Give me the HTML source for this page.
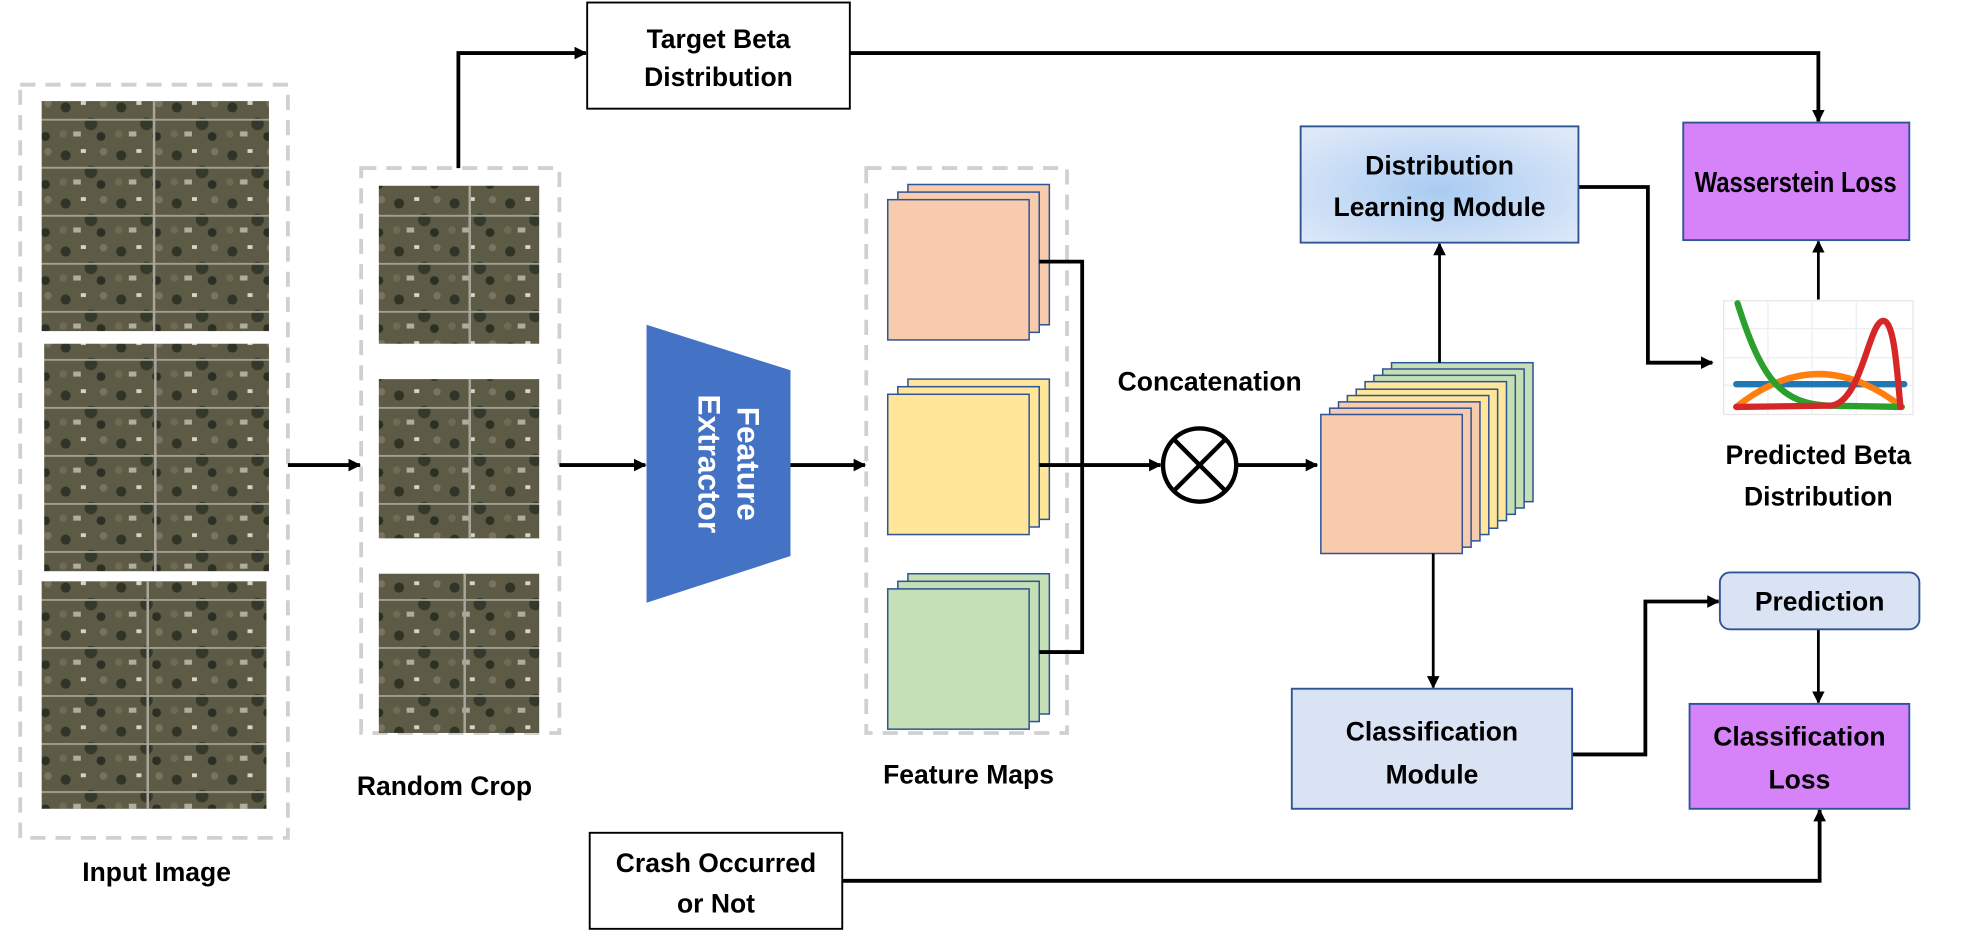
<!DOCTYPE html>
<html><head><meta charset="utf-8"><style>
html,body{margin:0;padding:0;background:#fff;}
svg{display:block;}
text{font-family:"Liberation Sans",sans-serif;font-weight:bold;fill:#000;}
</style></head><body>
<svg width="1980" height="944" viewBox="0 0 1568 747" preserveAspectRatio="none" xmlns="http://www.w3.org/2000/svg">
<defs>
<marker id="ar" markerWidth="10" markerHeight="10" refX="9" refY="5" orient="auto" markerUnits="userSpaceOnUse"><path d="M0,0 L10,5 L0,10 z" fill="#000"/></marker>
<radialGradient id="dlm" cx="50%" cy="55%" r="65%"><stop offset="0" stop-color="#a9cbf2"/><stop offset="1" stop-color="#dde8f8"/></radialGradient>
<pattern id="sat" width="44" height="38" patternUnits="userSpaceOnUse">
<rect width="44" height="38" fill="#5d5a45"/>
<circle cx="8" cy="9" r="4" fill="#2f3427"/><circle cx="28" cy="22" r="5" fill="#343a2b"/><circle cx="38" cy="6" r="3" fill="#7a7360"/>
<rect x="14" y="28" width="6" height="4" fill="#b0aca0"/><circle cx="36" cy="32" r="3.5" fill="#2b3024"/>
<rect x="20" y="4" width="4" height="3" fill="#d8d4cc"/><circle cx="6" cy="30" r="3" fill="#6f6a52"/>
<rect x="0" y="18" width="44" height="1.5" fill="#a19e94"/>
</pattern>
</defs>

<!-- Input image -->
<rect x="16" y="67" width="212" height="596" fill="none" stroke="#d0d0d0" stroke-width="3" stroke-dasharray="12,8"/>
<rect x="33" y="80" width="180" height="182" fill="url(#sat)"/>
<rect x="35" y="272" width="178" height="180" fill="url(#sat)"/>
<rect x="33" y="460" width="178" height="180" fill="url(#sat)"/>
<g stroke="#a8a59a" stroke-width="2"><line x1="122" y1="80" x2="122" y2="262"/><line x1="123" y1="272" x2="123" y2="452"/><line x1="117" y1="460" x2="117" y2="640"/></g>
<text x="124" y="697" font-size="21" text-anchor="middle">Input Image</text>

<!-- Random crop -->
<rect x="286" y="133" width="157" height="447" fill="none" stroke="#d0d0d0" stroke-width="3" stroke-dasharray="12,8"/>
<rect x="300" y="147" width="127" height="125" fill="url(#sat)"/>
<rect x="300" y="300" width="127" height="126" fill="url(#sat)"/>
<rect x="300" y="454" width="127" height="126" fill="url(#sat)"/>
<g stroke="#a8a59a" stroke-width="2"><line x1="372" y1="147" x2="372" y2="272"/><line x1="372" y1="300" x2="372" y2="426"/><line x1="368" y1="454" x2="368" y2="580"/></g>
<text x="352" y="629" font-size="21" text-anchor="middle">Random Crop</text>

<g stroke="#000" stroke-width="3" fill="none">
<line x1="228" y1="368" x2="285" y2="368" marker-end="url(#ar)"/>
<line x1="443" y1="368" x2="511" y2="368" marker-end="url(#ar)"/>
<polyline points="363,133 363,42 464,42" marker-end="url(#ar)"/>
<polyline points="673,42 1440,42 1440,96" marker-end="url(#ar)"/>
<line x1="626" y1="368" x2="685" y2="368" marker-end="url(#ar)"/>
</g>

<!-- Target beta -->
<rect x="465" y="2" width="208" height="84" fill="#fff" stroke="#000" stroke-width="1.5"/>
<text x="569" y="38" font-size="21" text-anchor="middle">Target Beta</text>
<text x="569" y="68" font-size="21" text-anchor="middle">Distribution</text>

<!-- Feature extractor -->
<polygon points="512,257 626,293 626,440 512,477" fill="#4472c4"/>
<text transform="translate(584,367) rotate(90)" font-size="25" text-anchor="middle" style="fill:#fff">Feature</text>
<text transform="translate(553,367) rotate(90)" font-size="25" text-anchor="middle" style="fill:#fff">Extractor</text>

<!-- Feature maps -->
<rect x="686" y="133" width="159" height="447" fill="none" stroke="#d0d0d0" stroke-width="3" stroke-dasharray="12,8"/>
<g stroke="#2f5597" stroke-width="1.2">
<rect x="719" y="146" width="112" height="111" fill="#f8cbad"/><rect x="711" y="152" width="112" height="111" fill="#f8cbad"/><rect x="703" y="158" width="112" height="111" fill="#f8cbad"/>
<rect x="719" y="300" width="112" height="111" fill="#ffe699"/><rect x="711" y="306" width="112" height="111" fill="#ffe699"/><rect x="703" y="312" width="112" height="111" fill="#ffe699"/>
<rect x="719" y="454" width="112" height="111" fill="#c5e0b4"/><rect x="711" y="460" width="112" height="111" fill="#c5e0b4"/><rect x="703" y="466" width="112" height="111" fill="#c5e0b4"/>
</g>
<text x="767" y="620" font-size="21" text-anchor="middle">Feature Maps</text>

<g stroke="#000" stroke-width="3" fill="none">
<polyline points="823,207 857,207 857,516 823,516"/>
<line x1="823" y1="368" x2="919" y2="368" marker-end="url(#ar)"/>
<line x1="980" y1="368" x2="1043" y2="368" marker-end="url(#ar)"/>
</g>
<circle cx="950" cy="368" r="29" fill="#fff" stroke="#000" stroke-width="3.5"/>
<g stroke="#000" stroke-width="3.5"><line x1="930" y1="348" x2="970" y2="388"/><line x1="970" y1="348" x2="930" y2="388"/></g>
<text x="958" y="309" font-size="21" text-anchor="middle">Concatenation</text>

<!-- Concat stack -->
<g stroke="#2f5597" stroke-width="1.2">
<rect x="1102" y="287" width="112" height="110" fill="#c5e0b4"/>
<rect x="1095" y="292" width="112" height="110" fill="#c5e0b4"/>
<rect x="1088" y="297" width="112" height="110" fill="#c5e0b4"/>
<rect x="1081" y="302" width="112" height="110" fill="#ffe699"/>
<rect x="1074" y="308" width="112" height="110" fill="#ffe699"/>
<rect x="1067" y="313" width="112" height="110" fill="#ffe699"/>
<rect x="1060" y="318" width="112" height="110" fill="#f8cbad"/>
<rect x="1053" y="323" width="112" height="110" fill="#f8cbad"/>
<rect x="1046" y="328" width="112" height="110" fill="#f8cbad"/>
</g>

<g stroke="#000" stroke-width="2.2" fill="none">
<line x1="1140" y1="287" x2="1140" y2="193" marker-end="url(#ar)"/>
<line x1="1135" y1="438" x2="1135" y2="544" marker-end="url(#ar)"/>
<line x1="1440" y1="237" x2="1440" y2="191" marker-end="url(#ar)"/>
<line x1="1440" y1="498" x2="1440" y2="556" marker-end="url(#ar)"/>
</g>
<g stroke="#000" stroke-width="3" fill="none">
<polyline points="1250,148 1305,148 1305,287 1356,287" marker-end="url(#ar)"/>
<polyline points="1245,597 1303,597 1303,476 1361,476" marker-end="url(#ar)"/>
<polyline points="667,697 1441,697 1441,641" marker-end="url(#ar)"/>
</g>

<!-- DLM -->
<rect x="1030" y="100" width="220" height="92" fill="url(#dlm)" stroke="#2f5597" stroke-width="1.5"/>
<text x="1140" y="138" font-size="21" text-anchor="middle">Distribution</text>
<text x="1140" y="171" font-size="21" text-anchor="middle">Learning Module</text>

<!-- Wasserstein -->
<rect x="1333" y="97" width="179" height="93" fill="#d683fa" stroke="#2f5597" stroke-width="1.5"/>
<text x="1422" y="152" font-size="23" text-anchor="middle" textLength="160" lengthAdjust="spacingAndGlyphs">Wasserstein Loss</text>

<!-- Plot -->
<rect x="1365" y="238" width="150" height="90" fill="#fff" stroke="#e6e6e6"/>
<g stroke="#eee" stroke-width="1"><line x1="1400" y1="238" x2="1400" y2="328"/><line x1="1435" y1="238" x2="1435" y2="328"/><line x1="1470" y1="238" x2="1470" y2="328"/><line x1="1365" y1="260" x2="1515" y2="260"/><line x1="1365" y1="283" x2="1515" y2="283"/><line x1="1365" y1="305" x2="1515" y2="305"/></g>
<g fill="none" stroke-width="5" stroke-linecap="round">
<line x1="1375" y1="304" x2="1508" y2="304" stroke="#1f77b4"/>
<path d="M1375,322 Q1440,270 1506,322" stroke="#ff7f0e"/>
<path d="M1376,240 C1395,300 1410,320 1450,321 L1506,322" stroke="#2ca02c"/>
<path d="M1375,322 L1450,321 C1475,318 1480,252 1492,254 C1500,256 1502,290 1505,322" stroke="#d62728"/>
</g>
<text x="1440" y="367" font-size="21" text-anchor="middle">Predicted Beta</text>
<text x="1440" y="400" font-size="21" text-anchor="middle">Distribution</text>

<!-- Classification module -->
<rect x="1023" y="545" width="222" height="95" fill="#dae3f3" stroke="#2f5597" stroke-width="1.5"/>
<text x="1134" y="586" font-size="21" text-anchor="middle">Classification</text>
<text x="1134" y="620" font-size="21" text-anchor="middle">Module</text>

<!-- Prediction -->
<rect x="1362" y="453" width="158" height="45" rx="8" fill="#dae3f3" stroke="#2f5597" stroke-width="1.5"/>
<text x="1441" y="483" font-size="21" text-anchor="middle">Prediction</text>

<!-- Classification loss -->
<rect x="1338" y="557" width="174" height="83" fill="#d683fa" stroke="#2f5597" stroke-width="1.5"/>
<text x="1425" y="590" font-size="21" text-anchor="middle">Classification</text>
<text x="1425" y="624" font-size="21" text-anchor="middle">Loss</text>

<!-- Crash -->
<rect x="467" y="659" width="200" height="76" fill="#fff" stroke="#000" stroke-width="1.5"/>
<text x="567" y="690" font-size="21" text-anchor="middle">Crash Occurred</text>
<text x="567" y="722" font-size="21" text-anchor="middle">or Not</text>
</svg>
</body></html>
